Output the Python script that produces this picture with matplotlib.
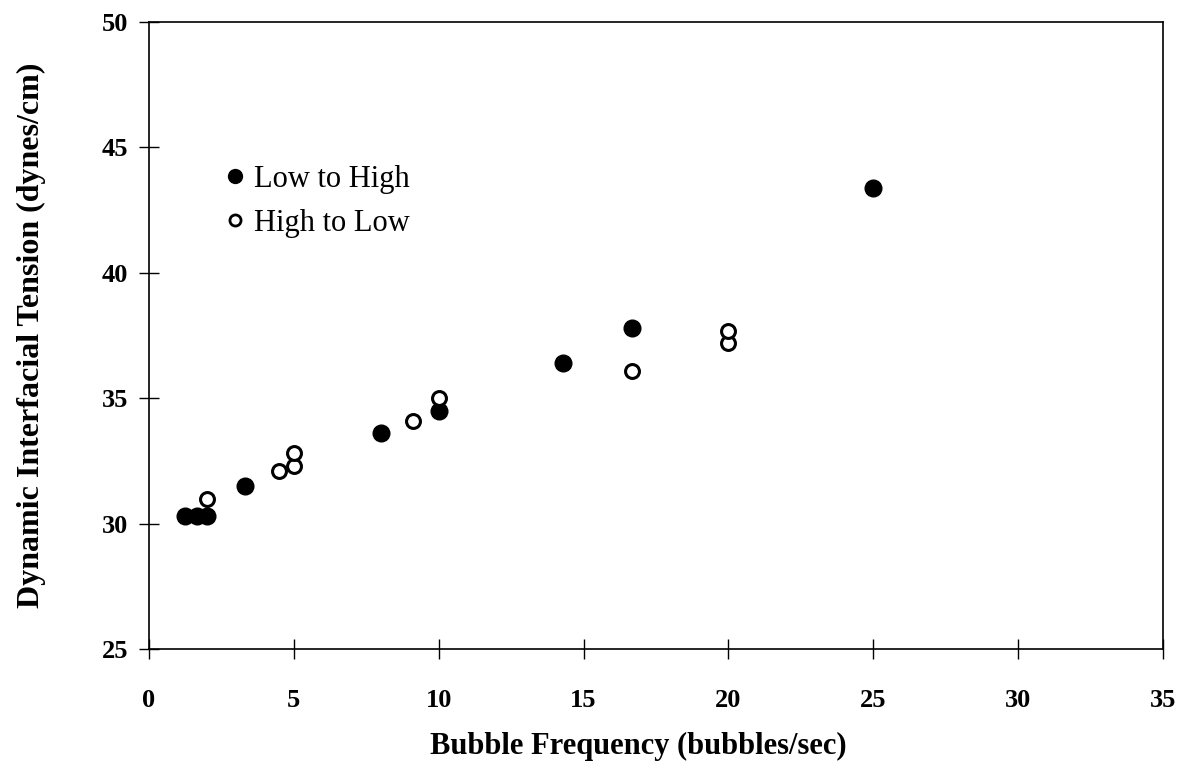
import matplotlib
matplotlib.use("Agg")
import matplotlib.pyplot as plt
from matplotlib.lines import Line2D

plt.rcParams["font.family"] = ["Liberation Serif", "DejaVu Serif"]

# Low to High sweep (filled markers)
low_high_freq = [1.25, 1.67, 2.0, 3.33, 8.0, 10.0, 14.29, 16.67, 25.0]
low_high_ift = [30.3, 30.3, 30.3, 31.5, 33.6, 34.5, 36.4, 37.8, 43.4]

# High to Low sweep (open markers)
high_low_freq = [2.0, 4.5, 5.0, 5.0, 9.1, 10.0, 16.67, 20.0, 20.0]
high_low_ift = [31.0, 32.1, 32.3, 32.8, 34.1, 35.0, 36.1, 37.2, 37.7]

x_ticks = [0, 5, 10, 15, 20, 25, 30, 35]
y_ticks = [25, 30, 35, 40, 45, 50]

fig = plt.figure(figsize=(11.94, 7.74), dpi=100)
ax = fig.add_axes([0.1248, 0.1615, 0.8492, 0.810])

ax.plot(low_high_freq, low_high_ift, linestyle="none", marker="o",
        markersize=12, color="black", label="Low to High")
ax.plot(high_low_freq, high_low_ift, linestyle="none", marker="o",
        markersize=10, markerfacecolor="white", markeredgecolor="black",
        markeredgewidth=2.2, label="High to Low")

ax.set_xlim(0, 35)
ax.set_ylim(25, 50)
ax.set_xticks(x_ticks)
ax.set_yticks(y_ticks)
for lbl in ax.get_xticklabels() + ax.get_yticklabels():
    lbl.set_fontweight("bold")
ax.tick_params(axis="x", direction="inout", length=14, width=1, labelsize=19, pad=22)
ax.tick_params(axis="y", direction="inout", length=14, width=1, labelsize=19, pad=8)
for sp in ax.spines.values():
    sp.set_linewidth(1.2)

ax.set_xlabel("Bubble Frequency (bubbles/sec)", fontsize=22, fontweight="bold",
              labelpad=14, x=0.483)
ax.set_ylabel("Dynamic Interfacial Tension (dynes/cm)", fontsize=23, fontweight="bold",
              labelpad=40)

# legend uses smaller symbols than the data markers
handles = [
    Line2D([], [], linestyle="none", marker="o", markersize=10, color="black"),
    Line2D([], [], linestyle="none", marker="o", markersize=8,
           markerfacecolor="white", markeredgecolor="black", markeredgewidth=2),
]
ax.legend(handles, ["Low to High", "High to Low"], loc="upper left",
          bbox_to_anchor=(0.049, 0.816), frameon=False, fontsize=22,
          handlelength=0.6, handletextpad=0.3, labelspacing=0.5)

fig.savefig("out.png", dpi=100)
